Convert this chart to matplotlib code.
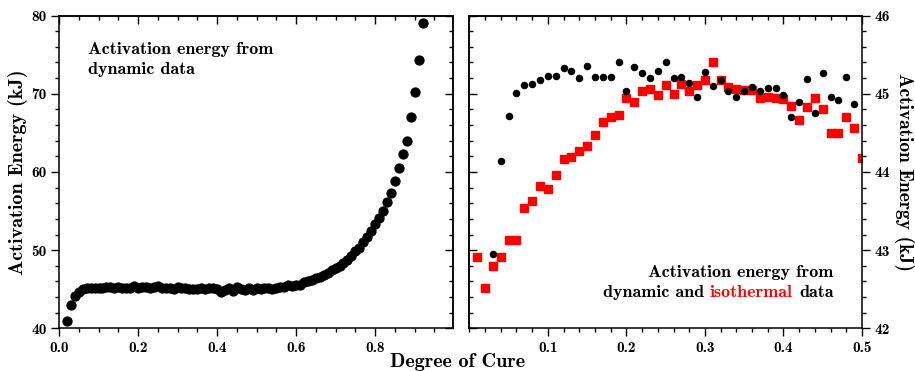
"""
Activation energy vs degree of cure: dynamic data (left) and
dynamic vs isothermal comparison (right).
"""
from matplotlib import pyplot as plt
from matplotlib.ticker import MultipleLocator

# left panel: dynamic data over the whole cure range
dyn_x = [0.02, 0.03, 0.04, 0.05, 0.06, 0.07, 0.08, 0.09, 0.10, 0.11,
         0.12, 0.13, 0.14, 0.15, 0.16, 0.17, 0.18, 0.19, 0.20, 0.21,
         0.22, 0.23, 0.24, 0.25, 0.26, 0.27, 0.28, 0.29, 0.30, 0.31,
         0.32, 0.33, 0.34, 0.35, 0.36, 0.37, 0.38, 0.39, 0.40, 0.41,
         0.42, 0.43, 0.44, 0.45, 0.46, 0.47, 0.48, 0.49, 0.50, 0.51,
         0.52, 0.53, 0.54, 0.55, 0.56, 0.57, 0.58, 0.59, 0.60, 0.61,
         0.62, 0.63, 0.64, 0.65, 0.66, 0.67, 0.68, 0.69, 0.70, 0.71,
         0.72, 0.73, 0.74, 0.75, 0.76, 0.77, 0.78, 0.79, 0.80, 0.81,
         0.82, 0.83, 0.84, 0.85, 0.86, 0.87, 0.88, 0.89, 0.90, 0.91,
         0.92]
dyn_E = [41.0, 43.0, 44.1, 44.7, 45.0, 45.1, 45.1, 45.2, 45.2, 45.2,
         45.3, 45.3, 45.2, 45.3, 45.2, 45.2, 45.2, 45.4, 45.1, 45.3,
         45.3, 45.2, 45.3, 45.4, 45.2, 45.2, 45.1, 45.0, 45.3, 45.1,
         45.2, 45.0, 45.0, 45.0, 45.1, 45.0, 45.1, 45.1, 45.0, 44.7,
         44.9, 45.2, 44.8, 45.3, 45.0, 44.9, 45.2, 44.9, 45.1, 45.0,
         45.1, 45.1, 45.0, 45.2, 45.3, 45.3, 45.5, 45.4, 45.6, 45.6,
         45.9, 46.1, 46.2, 46.4, 46.6, 46.8, 47.1, 47.4, 47.7, 48.0,
         48.3, 48.8, 49.3, 49.9, 50.3, 51.0, 51.7, 52.5, 53.3, 54.1,
         55.0, 56.1, 57.3, 58.8, 60.5, 62.3, 64.0, 67.0, 70.2, 74.3,
         79.0]

# right panel: dynamic (black) vs isothermal (red), low cure range
cmp_dyn_x = [0.03, 0.04, 0.05, 0.06, 0.07, 0.08, 0.09, 0.10, 0.11, 0.12,
             0.13, 0.14, 0.15, 0.16, 0.17, 0.18, 0.19, 0.20, 0.21, 0.22,
             0.23, 0.24, 0.25, 0.26, 0.27, 0.28, 0.29, 0.30, 0.31, 0.32,
             0.33, 0.34, 0.35, 0.36, 0.37, 0.38, 0.39, 0.40, 0.41, 0.42,
             0.43, 0.44, 0.45, 0.46, 0.47, 0.48, 0.49]
cmp_dyn_E = [42.95, 44.14, 44.71, 45.01, 45.11, 45.13, 45.17, 45.23, 45.23, 45.33,
             45.29, 45.20, 45.36, 45.22, 45.22, 45.22, 45.41, 45.04, 45.34, 45.27,
             45.20, 45.29, 45.41, 45.20, 45.22, 45.14, 44.96, 45.28, 45.10, 45.17,
             45.04, 44.96, 45.03, 45.09, 45.03, 45.07, 45.08, 44.98, 44.70, 44.90,
             45.19, 44.76, 45.27, 44.96, 44.92, 45.21, 44.87]

iso_x = [0.01, 0.02, 0.03, 0.04, 0.05, 0.06, 0.07, 0.08, 0.09, 0.10,
         0.11, 0.12, 0.13, 0.14, 0.15, 0.16, 0.17, 0.18, 0.19, 0.20,
         0.21, 0.22, 0.23, 0.24, 0.25, 0.26, 0.27, 0.28, 0.29, 0.30,
         0.31, 0.32, 0.33, 0.34, 0.35, 0.36, 0.37, 0.38, 0.39, 0.40,
         0.41, 0.42, 0.43, 0.44, 0.45, 0.46, 0.47, 0.48, 0.49, 0.50]
iso_E = [42.91, 42.52, 42.80, 42.91, 43.13, 43.13, 43.54, 43.63, 43.82, 43.78,
         43.96, 44.17, 44.19, 44.27, 44.33, 44.47, 44.64, 44.70, 44.73, 44.94,
         44.89, 45.04, 45.06, 44.98, 45.11, 45.00, 45.13, 45.03, 45.11, 45.17,
         45.40, 45.17, 45.09, 45.06, 45.05, 45.05, 44.95, 44.96, 44.94, 44.93,
         44.84, 44.67, 44.83, 44.95, 44.81, 44.50, 44.50, 44.70, 44.56, 44.18]

plt.rcParams['font.family'] = ['cmb10', 'DejaVu Serif']
plt.rcParams['font.size'] = 11
plt.rcParams['axes.linewidth'] = 1.1

fig = plt.figure(figsize=(9.15, 3.71), dpi=100)
ax_l = fig.add_axes([0.0645, 0.115, 0.4305, 0.843])
ax_r = fig.add_axes([0.513, 0.115, 0.429, 0.843])


def style_ticks(axis_obj, direction, labels=True):
    axis_obj.set_tick_params(which='major', direction=direction, length=5.5, width=1.0)
    axis_obj.set_tick_params(which='minor', direction=direction, length=3.2, width=1.0)
    if not labels:
        axis_obj.set_tick_params(which='both', labelleft=False, labelright=False,
                                 labeltop=False, labelbottom=False)


# left panel
ax_l.plot(dyn_x, dyn_E, 'o', color='black', markersize=6.4)
ax_l.set_xlim(0, 0.997)
ax_l.set_ylim(40, 80)
ax_l.xaxis.set_major_locator(MultipleLocator(0.2))
ax_l.xaxis.set_minor_locator(MultipleLocator(0.05))
ax_l.yaxis.set_major_locator(MultipleLocator(10))
ax_l.yaxis.set_minor_locator(MultipleLocator(2))
style_ticks(ax_l.xaxis, 'out')
style_ticks(ax_l.yaxis, 'out')
ax_l.set_ylabel('Activation Energy (kJ)', fontsize=14.5, labelpad=2)

sec = ax_l.secondary_xaxis('top')
sec.xaxis.set_major_locator(MultipleLocator(0.2))
sec.xaxis.set_minor_locator(MultipleLocator(0.05))
style_ticks(sec.xaxis, 'in', labels=False)
sec = ax_l.secondary_yaxis('right')
sec.yaxis.set_major_locator(MultipleLocator(10))
sec.yaxis.set_minor_locator(MultipleLocator(2))
style_ticks(sec.yaxis, 'in', labels=False)

ax_l.text(0.074, 0.877, 'Activation energy from', transform=ax_l.transAxes,
          fontsize=13, ha='left', va='baseline')
ax_l.text(0.074, 0.8125, 'dynamic data', transform=ax_l.transAxes,
          fontsize=13, ha='left', va='baseline')

# right panel
ax_r.plot(iso_x, iso_E, 's', color='#ff0000', markersize=5.3)
ax_r.plot(cmp_dyn_x, cmp_dyn_E, 'o', color='black', markersize=4.4)
ax_r.set_xlim(0, 0.5)
ax_r.set_ylim(42, 46)
ax_r.set_xticks([0.1, 0.2, 0.3, 0.4, 0.5])
ax_r.xaxis.set_minor_locator(MultipleLocator(0.02))
ax_r.yaxis.set_major_locator(MultipleLocator(1))
ax_r.yaxis.set_minor_locator(MultipleLocator(0.2))
ax_r.yaxis.tick_right()
ax_r.yaxis.set_label_position('right')
style_ticks(ax_r.xaxis, 'out')
style_ticks(ax_r.yaxis, 'out')
ax_r.set_ylabel('Activation Energy (kJ)', fontsize=14, rotation=270, va='bottom', labelpad=3)

sec = ax_r.secondary_xaxis('top')
sec.set_xticks([0.1, 0.2, 0.3, 0.4, 0.5])
sec.xaxis.set_minor_locator(MultipleLocator(0.02))
style_ticks(sec.xaxis, 'in', labels=False)
sec = ax_r.secondary_yaxis('left')
sec.yaxis.set_major_locator(MultipleLocator(1))
sec.yaxis.set_minor_locator(MultipleLocator(0.2))
style_ticks(sec.yaxis, 'in', labels=False)

# two-colour caption, right aligned
ax_r.text(0.928, 0.164, 'Activation energy from', transform=ax_r.transAxes,
          fontsize=13, ha='right', va='baseline')
t_data = ax_r.text(0.928, 0.10, 'data', transform=ax_r.transAxes,
                   fontsize=13, ha='right', va='baseline')
t_iso = ax_r.annotate('isothermal', xy=(0, 0), xycoords=t_data, xytext=(-4.5, 0),
                      textcoords='offset points', fontsize=13, color='#ff0000',
                      ha='right', va='bottom')
ax_r.annotate('dynamic and', xy=(0, 0), xycoords=t_iso, xytext=(-4.5, 0),
              textcoords='offset points', fontsize=13, ha='right', va='bottom')

fig.text(0.5, 0.012, 'Degree of Cure', fontsize=14.5, ha='center', va='baseline')

plt.savefig('out.png', dpi=100)
